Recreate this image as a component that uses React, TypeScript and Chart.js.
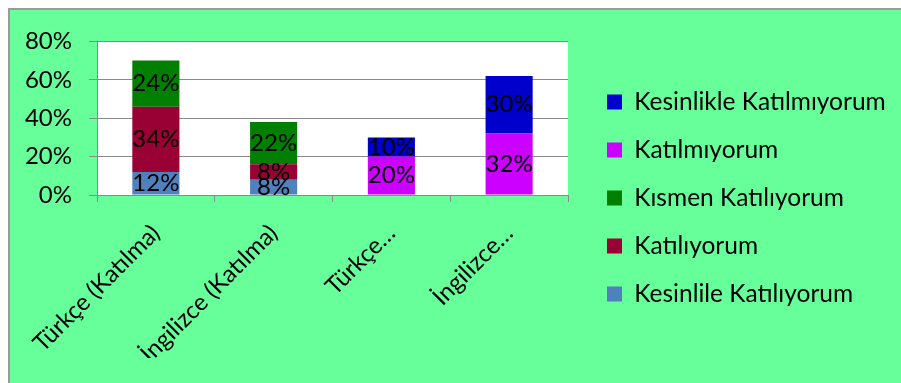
import React, { useEffect, useRef } from 'react';
import { Chart, registerables } from 'chart.js';

Chart.register(...registerables);

const categories = ['Türkçe (Katılma)', 'İngilizce (Katılma)', 'Türkçe…', 'İngilizce…'];
const seriesNames = [
  'Kesinlile Katılıyorum',
  'Katılıyorum',
  'Kısmen Katılıyorum',
  'Katılmıyorum',
  'Kesinlikle Katılmıyorum',
];
const kesinlileKatiliyorum = [12, 8, null, null];
const katiliyorum = [34, 8, null, null];
const kismenKatiliyorum = [24, 22, null, null];
const katilmiyorum = [null, null, 20, 32];
const kesinlikleKatilmiyorum = [null, null, 10, 30];
const yTicks = [0, 20, 40, 60, 80];

const FONT = 'Lato';
const LEGEND_FS = 24.5;
const LEGEND_PAD = 48 - LEGEND_FS;
const CANVAS_W = 891;
const CANVAS_H = 373;

export default function App() {
  const ref = useRef<HTMLCanvasElement>(null);
  useEffect(() => {
    document.documentElement.style.overflow = 'hidden';
    document.body.style.overflow = 'hidden';

    const boxLeft = 597;
    const legendLeft = boxLeft - LEGEND_PAD;
    const mctx = document.createElement('canvas').getContext('2d') as CanvasRenderingContext2D;
    mctx.font = `normal ${LEGEND_FS}px ${FONT}`;
    const maxText = Math.max(...seriesNames.map((s) => mctx.measureText(s).width));
    const legendW = LEGEND_PAD + 15 + LEGEND_FS / 2 + maxText + 10;
    const padRight = Math.max(0, CANVAS_W - legendLeft - legendW);
    const y2W = legendLeft - 558;

    const plotBg = {
      id: 'plotBg',
      beforeDraw(chart: any) {
        const { ctx, chartArea: a } = chart;
        ctx.save();
        ctx.fillStyle = '#ffffff';
        ctx.fillRect(a.left, a.top, a.right - a.left, a.bottom - a.top);
        ctx.restore();
      },
    };
    const labelPlugin = {
      id: 'segLabels',
      afterDatasetsDraw(chart: any) {
        const ctx = chart.ctx;
        ctx.save();
        ctx.font = `24px ${FONT}`;
        ctx.fillStyle = '#000';
        ctx.textAlign = 'center';
        ctx.textBaseline = 'middle';
        chart.data.datasets.forEach((ds: any, i: number) => {
          const meta = chart.getDatasetMeta(i);
          meta.data.forEach((el: any, j: number) => {
            const v = ds.data[j];
            if (v == null) return;
            const p = el.getProps(['x', 'y', 'base'], true);
            ctx.fillText(v + '%', p.x, (p.y + p.base) / 2);
          });
        });
        ctx.restore();
      },
    };
    const mk = (label: string, data: any[], color: string) => ({
      label,
      data,
      backgroundColor: color,
      borderWidth: 0,
      barPercentage: 0.4,
      categoryPercentage: 1,
    });
    const chart = new Chart(ref.current as HTMLCanvasElement, {
      type: 'bar',
      data: {
        labels: categories,
        datasets: [
          mk(seriesNames[0], kesinlileKatiliyorum, '#4F81BD'),
          mk(seriesNames[1], katiliyorum, '#990033'),
          mk(seriesNames[2], kismenKatiliyorum, '#007F00'),
          mk(seriesNames[3], katilmiyorum, '#CC00FF'),
          mk(seriesNames[4], kesinlikleKatilmiyorum, '#0000CC'),
        ],
      },
      options: {
        responsive: false,
        animation: false,
        layout: { padding: { top: 28, left: 0, right: padRight, bottom: 25 } },
        plugins: {
          tooltip: { enabled: false },
          legend: {
            position: 'right',
            reverse: true,
            maxWidth: 500,
            labels: {
              boxWidth: 15,
              boxHeight: 15,
              padding: LEGEND_PAD,
              color: '#000',
              font: { family: FONT, size: LEGEND_FS },
            },
          },
        },
        scales: {
          x: {
            stacked: true,
            grid: { offset: true, drawOnChartArea: false, tickLength: 7, color: '#8a8a8a' },
            border: { color: '#8a8a8a' },
            ticks: {
              autoSkip: false,
              maxRotation: 45,
              minRotation: 45,
              color: '#000',
              padding: 17,
              font: { family: FONT, size: 24 },
            },
            afterFit: (s: any) => {
              s.height = 163;
              s.paddingLeft = 0;
              s.paddingRight = 0;
            },
          },
          y: {
            stacked: true,
            min: 0,
            max: 80,
            afterBuildTicks: (s: any) => {
              s.ticks = yTicks.map((v) => ({ value: v }));
            },
            grid: { color: '#8a8a8a', tickLength: 8 },
            border: { color: '#8a8a8a' },
            ticks: {
              color: '#000',
              padding: 17,
              font: { family: FONT, size: 24 },
              callback: (v: any) => v + '%',
            },
            afterFit: (s: any) => {
              s.width = 87;
            },
          },
          y2: {
            type: 'linear',
            position: 'right',
            display: true,
            grid: { display: false },
            border: { display: false },
            ticks: { display: false },
            afterFit: (s: any) => {
              s.width = y2W;
            },
          },
        },
      },
      plugins: [plotBg, labelPlugin],
    } as any);
    return () => chart.destroy();
  }, []);
  return (
    <div
      style={{
        position: 'absolute',
        left: 8,
        top: 8,
        width: 893,
        height: 375,
        background: '#66FF99',
        borderTop: '2px solid #9a9a9a',
        borderLeft: '2px solid #9a9a9a',
        boxSizing: 'border-box',
      }}
    >
      <canvas ref={ref} width={CANVAS_W} height={CANVAS_H} style={{ display: 'block' }} />
    </div>
  );
}
